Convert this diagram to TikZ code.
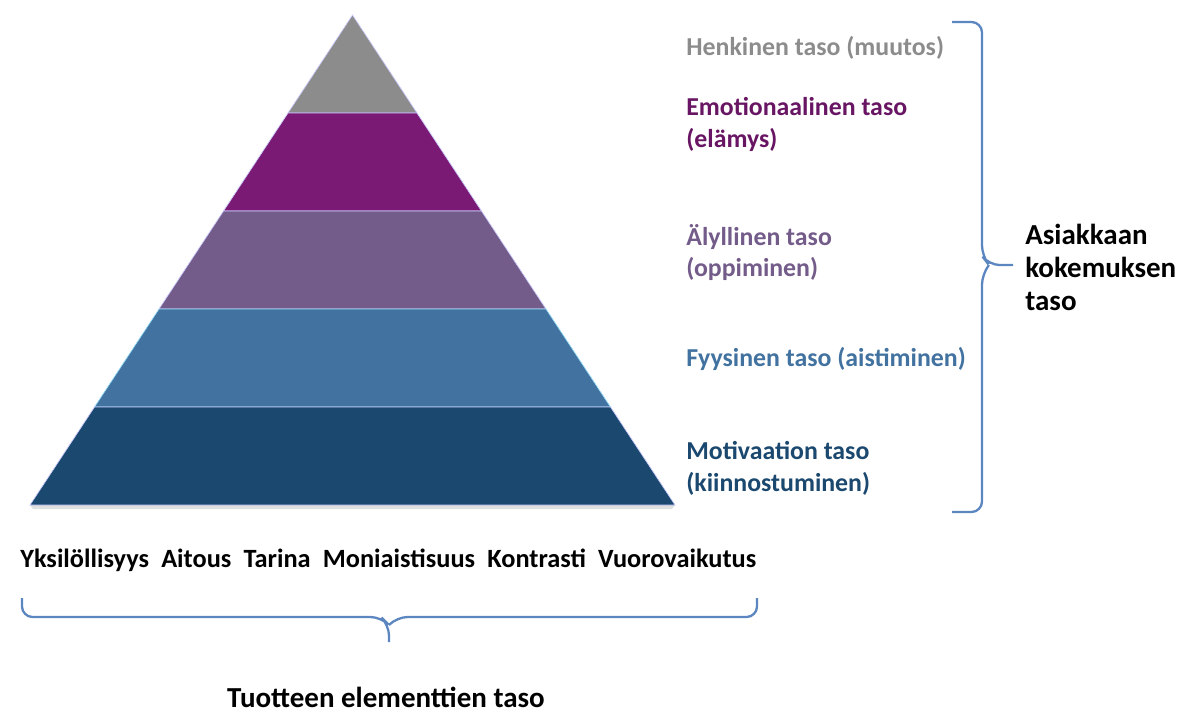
\documentclass[tikz,border=0pt]{standalone}
\usepackage{fontspec}
\setmainfont{Carlito}
\usetikzlibrary{positioning}

\definecolor{harmaa}{HTML}{8C8C8C}
\definecolor{violetti}{HTML}{7A1A74}
\definecolor{malva}{HTML}{745C8A}
\definecolor{sininen}{HTML}{4272A0}
\definecolor{tumma}{HTML}{1B486E}
\definecolor{sulje}{HTML}{5B86C0}

\begin{document}
\begin{tikzpicture}[x=0.02cm, y=-0.02cm, every node/.style={font=\fontsize{14.7}{18}\selectfont\bfseries, inner sep=0pt}, node distance=0.23cm]
    % Tyylit
    \tikzstyle{kerros} = [draw=white!80!blue, line width=0.4pt]
    \tikzstyle{taso} = [anchor=north west, align=left]
    \tikzstyle{elementti} = [text=black, font=\fontsize{15}{18}\selectfont\bfseries]
    \tikzstyle{otsikko} = [font=\fontsize{16.5}{18.7}\selectfont\bfseries]
    \tikzstyle{sulku} = [draw=sulje, line width=1.3pt, rounded corners=6]

    \useasboundingbox (0,0) rectangle (1194,713);

    % Pyramidi
    \fill[black!12] (30,505) -- (675,505) -- (672,509) -- (33,509) -- cycle;
    \filldraw[kerros, fill=harmaa] (352.5,15) -- (417,113) -- (288,113) -- cycle;
    \filldraw[kerros, fill=violetti] (288,113) -- (417,113) -- (481.5,211) -- (223.5,211) -- cycle;
    \filldraw[kerros, fill=malva] (223.5,211) -- (481.5,211) -- (546,309) -- (159,309) -- cycle;
    \filldraw[kerros, fill=sininen, draw=cyan!40] (159,309) -- (546,309) -- (610.5,407) -- (94.5,407) -- cycle;
    \filldraw[kerros, fill=tumma] (94.5,407) -- (610.5,407) -- (675,505) -- (30,505) -- cycle;

    % Tasojen tekstit
    \node[taso, text=harmaa] (henkinen) at (686,36) {Henkinen taso (muutos)};
    \node[taso, text=violetti!85!black] (emotio) at (686,97) {Emotionaalinen taso\\(elämys)};
    \node[taso, text=malva] (alyllinen) at (686,224) {Älyllinen taso\\(oppiminen)};
    \node[taso, text=sininen] (fyysinen) at (686,347) {Fyysinen taso (aistiminen)};
    \node[taso, text=tumma] (motivaatio) at (686,441) {Motivaation taso\\(kiinnostuminen)};

    % Oikea sulje
    \coordinate (oyla) at (952,22);
    \coordinate (oala) at (952,512);
    \coordinate (okarki) at (1013,265);
    \draw[sulku] (oyla) -- (982,22) -- (982,256) -- (989,265) -- (okarki);
    \draw[sulku] (989,265) -- (982,274) -- (982,512) -- (oala);
    \node[taso, otsikko] (asiakas) at (1025,224) {Asiakkaan\\kokemuksen\\taso};

    % Elementit
    \node[elementti, anchor=base west] (yksil) at (20,567) {Yksilöllisyys};
    \node[elementti, base right=of yksil] (aitous) {Aitous};
    \node[elementti, base right=of aitous] (tarina) {Tarina};
    \node[elementti, base right=of tarina] (moni) {Moniaistisuus};
    \node[elementti, base right=of moni] (kontrasti) {Kontrasti};
    \node[elementti, base right=of kontrasti] (vuoro) {Vuorovaikutus};

    % Alempi sulje
    \coordinate (avas) at (22,598);
    \coordinate (aoik) at (757,598);
    \coordinate (akarki) at (389,642);
    \draw[sulku] (avas) -- (22,617) -- (381,617) -- (389,625) -- (akarki);
    \draw[sulku] (aoik) -- (757,617) -- (397,617) -- (389,625);
    \node[otsikko] (tuote) at (386,697) {Tuotteen elementtien taso};
\end{tikzpicture}
\end{document}
